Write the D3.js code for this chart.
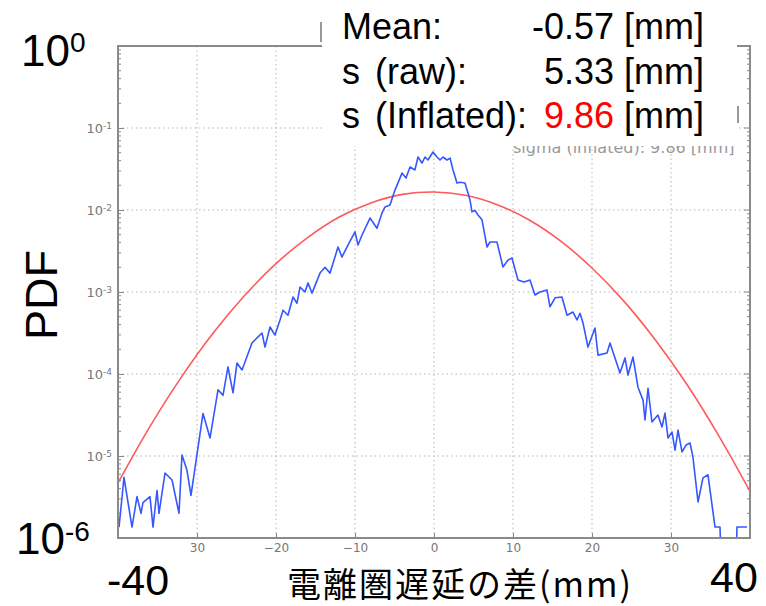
<!DOCTYPE html>
<html>
<head>
<meta charset="utf-8">
<script src="https://cdn.jsdelivr.net/npm/d3@7"></script>
<style>
  body { margin: 0; background: #fff; }
  svg { display: block; }
</style>
</head>
<body>
<script>
var blueX = [-39.87, -39.24, -38.23, -37.59, -37.09, -36.84, -35.95, -35.57, -35.06, -34.81,
  -34.05, -33.16, -32.28, -31.90, -31.27, -30.76, -29.24, -28.35, -27.34, -26.71,
  -26.08, -25.44, -24.94, -24.30, -23.04, -21.77, -21.39, -20.76, -20.13, -19.49,
  -19.11, -18.48, -17.85, -17.34, -16.96, -16.33, -15.95, -15.44, -14.43, -13.80,
  -13.16, -12.15, -11.65, -10.89, -10.00, -9.62, -9.11, -8.10, -7.22, -6.58,
  -6.20, -5.57, -4.94, -4.05, -3.54, -3.04, -2.41, -2.03, -1.52, -1.14,
  -0.76, -0.13, 0.38, 0.76, 1.14, 1.65, 2.03, 2.41, 2.91, 3.29,
  3.92, 4.30, 4.56, 4.81, 5.19, 5.57, 6.08, 6.71, 7.09, 7.97,
  8.73, 9.37, 9.87, 10.63, 11.39, 12.15, 12.78, 13.42, 14.30, 14.68,
  15.32, 16.20, 16.84, 17.59, 18.10, 18.48, 18.86, 19.49, 20.38, 20.76,
  21.90, 22.28, 22.91, 23.54, 24.18, 24.56, 25.19, 25.82, 26.46, 26.71,
  27.09, 27.59, 28.35, 28.86, 29.24, 29.62, 30.13, 30.51, 30.89, 31.39,
  31.90, 32.41, 32.78, 33.42, 34.05, 34.68, 35.57, 36.20, 36.58, 38.10,
  38.35, 39.62]
var blueY = [1.36e-6, 5.5e-6, 1.36e-6, 3.2e-6, 2.0e-6, 2.7e-6, 3.2e-6, 1.36e-6, 3.8e-6, 2.0e-6,
  6.2e-6, 5.1e-6, 2.0e-6, 1.03e-5, 6.7e-6, 3.3e-6, 3.3e-5, 1.66e-5, 6.4e-5, 5.5e-5,
  1.22e-4, 5.9e-5, 1.36e-4, 1.12e-4, 2.39e-4, 3.16e-4, 2.13e-4, 3.74e-4, 2.99e-4, 4.56e-4,
  6.0e-4, 5.2e-4, 8.7e-4, 7.3e-4, 1.15e-3, 1.0e-3, 1.29e-3, 9.7e-4, 1.7e-3, 2.0e-3,
  1.7e-3, 3.54e-3, 2.67e-3, 3.74e-3, 5.4e-3, 3.74e-3, 4.96e-3, 7.98e-3, 6.0e-3, 9.2e-3,
  1.09e-2, 1.15e-2, 1.75e-2, 2.82e-2, 2.45e-2, 3.34e-2, 3.08e-2, 4.43e-2, 3.74e-2, 4.43e-2,
  4.07e-2, 5.1e-2, 4.43e-2, 4.07e-2, 4.43e-2, 4.07e-2, 4.3e-2, 3.08e-2, 2.13e-2, 2.18e-2,
  2.13e-2, 1.61e-2, 1.32e-2, 9.5e-3, 9.9e-3, 8.7e-3, 7.6e-3, 3.54e-3, 4.07e-3, 4.07e-3,
  2.02e-3, 2.45e-3, 2.6e-3, 1.4e-3, 1.32e-3, 1.4e-3, 9.2e-4, 1.0e-3, 1.06e-3, 6.6e-4,
  8.5e-4, 8.7e-4, 5.2e-4, 5.7e-4, 4.56e-4, 5.5e-4, 4.2e-4, 2.13e-4, 3.64e-4, 1.7e-4,
  1.8e-4, 2.39e-4, 1.57e-4, 1.03e-4, 1.57e-4, 9.7e-5, 1.61e-4, 6.9e-5, 4.8e-5, 2.75e-5,
  6.7e-5, 2.6e-5, 3.16e-5, 2.26e-5, 3.34e-5, 1.66e-5, 1.96e-5, 1.18e-5, 2.07e-5, 1.12e-5,
  1.36e-5, 1.44e-5, 9.7e-6, 2.75e-6, 5.4e-6, 5.9e-6, 1.36e-6, 1.36e-6, 1e-7, 1e-7,
  1.36e-6, 1.36e-6]

// fitted curve (red), every 4 mm
var redX = [-40, -36, -32, -28, -24, -20, -16, -12, -8, -4, 0,
  4, 8, 12, 16, 20, 24, 28, 32, 36, 40]
var redY = [4.7e-6, 2.25e-5, 9.1e-5, 3.12e-4, 9.0e-4, 2.22e-3, 4.6e-3, 8.2e-3, 1.22e-2, 1.55e-2, 1.66e-2,
  1.51e-2, 1.16e-2, 7.6e-3, 4.2e-3, 1.96e-3, 7.8e-4, 2.62e-4, 7.5e-5, 1.8e-5, 3.7e-6]

var xTicks = [-30, -20, -10, 0, 10, 20, 30]
var xTickLabels = ["30", "\u221220", "\u221210", "0", "10", "20", "30"]
var yTicks = [1e-1, 1e-2, 1e-3, 1e-4, 1e-5]
var yTickExp = ["-1", "-2", "-3", "-4", "-5"]

var statLabels = ["Mean:", "(raw):", "(Inflated):"]
var statValues = ["-0.57", "5.33", "9.86"]

var W = 766, H = 606
var margin = {top: 46, right: 16, bottom: 68, left: 118}
var width = W - margin.left - margin.right
var height = H - margin.top - margin.bottom

var svg = d3.select("body").append("svg")
    .attr("width", W)
    .attr("height", H)

var g = svg.append("g")
    .attr("transform", "translate(" + margin.left + "," + margin.top + ")")

var x = d3.scaleLinear().domain([-40, 40]).range([0, width])
var y = d3.scaleLog().domain([1e-6, 1]).range([height, 0])

g.append("clipPath").attr("id", "clip")
  .append("rect").attr("width", width).attr("height", height)

// grid
g.selectAll(".vgrid").data(xTicks).enter().append("line")
    .attr("x1", d => x(d)).attr("x2", d => x(d))
    .attr("y1", 0).attr("y2", height)
    .attr("stroke", "#b4b4b4").attr("stroke-width", 1)
    .attr("stroke-dasharray", "1.5,3")
g.selectAll(".hgrid").data(yTicks).enter().append("line")
    .attr("x1", 0).attr("x2", width)
    .attr("y1", d => y(d)).attr("y2", d => y(d))
    .attr("stroke", "#b4b4b4").attr("stroke-width", 1)
    .attr("stroke-dasharray", "1.5,3")

// minor log ticks on both sides
var minor = []
for (var e = -6; e < 0; e++) {
  for (var m = 2; m < 10; m++) minor.push(m * Math.pow(10, e))
}
g.selectAll(".minL").data(minor).enter().append("line")
    .attr("x1", 0).attr("x2", 3)
    .attr("y1", d => y(d)).attr("y2", d => y(d))
    .attr("stroke", "#888")
g.selectAll(".minR").data(minor).enter().append("line")
    .attr("x1", width - 3).attr("x2", width)
    .attr("y1", d => y(d)).attr("y2", d => y(d))
    .attr("stroke", "#888")
g.selectAll(".majR").data(yTicks).enter().append("line")
    .attr("x1", width - 6).attr("x2", width)
    .attr("y1", d => y(d)).attr("y2", d => y(d))
    .attr("stroke", "#888")

// axes
var xAxis = g.append("g")
    .attr("transform", "translate(0," + height + ")")
    .call(d3.axisBottom(x).tickValues(xTicks).tickSize(-5).tickPadding(5)
      .tickFormat((d, i) => xTickLabels[i]))
xAxis.select(".domain").remove()
xAxis.selectAll("line").attr("stroke", "#888")
xAxis.selectAll("text")
    .attr("fill", "#777")
    .style("font-family", "DejaVu Sans")
    .style("font-size", "12px")

var yAxis = g.append("g")
    .call(d3.axisLeft(y).tickValues(yTicks).tickSize(-6).tickPadding(6).tickFormat(""))
yAxis.select(".domain").remove()
yAxis.selectAll("line").attr("stroke", "#888")
yAxis.selectAll(".tick text")
    .attr("fill", "#777")
    .style("font-family", "DejaVu Sans")
    .style("font-size", "13px")
    .each(function(d, i) {
      var t = d3.select(this)
      t.append("tspan").text("10")
      t.append("tspan").text(yTickExp[i]).attr("dy", "-0.45em").style("font-size", "9px")
    })

// lines
var lineFn = d3.line().x(d => x(d[0])).y(d => y(d[1]))
var redLine = d3.line().x(d => x(d[0])).y(d => y(d[1])).curve(d3.curveCatmullRom)

g.append("path")
    .datum(redX.map((v, i) => [v, redY[i]]))
    .attr("clip-path", "url(#clip)")
    .attr("d", redLine)
    .attr("fill", "none")
    .attr("stroke", "#ff5a5a")
    .attr("stroke-width", 1.6)

g.append("path")
    .datum(blueX.map((v, i) => [v, blueY[i]]))
    .attr("clip-path", "url(#clip)")
    .attr("d", lineFn)
    .attr("fill", "none")
    .attr("stroke", "#3557ff")
    .attr("stroke-width", 1.6)
    .attr("stroke-linejoin", "round")

// frame
g.append("rect")
    .attr("width", width).attr("height", height)
    .attr("fill", "none")
    .attr("stroke", "#8a8a8a")
    .attr("stroke-width", 2)

// remnant of the original legend, partly hidden under the box
svg.append("text")
    .attr("x", 513).attr("y", 153)
    .attr("fill", "#999")
    .style("font-family", "DejaVu Sans")
    .style("font-size", "16px")
    .text("sigma (inflated):  9.86 [mm]")
svg.append("line")
    .attr("x1", 321).attr("x2", 321).attr("y1", 22).attr("y2", 42)
    .attr("stroke", "#999").attr("stroke-width", 2)
svg.append("line")
    .attr("x1", 738).attr("x2", 738).attr("y1", 106).attr("y2", 123)
    .attr("stroke", "#999").attr("stroke-width", 2)

// white statistics box
svg.append("rect")
    .attr("x", 322).attr("y", 0)
    .attr("width", 415).attr("height", 146)
    .attr("fill", "#fff")

var bigFont = "Liberation Sans, Arial, sans-serif"
var rows = [39, 84, 128]
statLabels.forEach(function(lab, i) {
  var t = svg.append("text")
      .attr("y", rows[i])
      .style("font-family", bigFont)
      .style("font-size", "36px")
      .attr("fill", "#000")
  if (i === 0) {
    t.attr("x", 342).text(lab)
  } else {
    t.attr("x", 342).text("s")
    svg.append("text")
        .attr("x", 375).attr("y", rows[i])
        .style("font-family", bigFont)
        .style("font-size", "36px")
        .text(lab)
  }
  var v = svg.append("text")
      .attr("x", 704).attr("y", rows[i])
      .attr("text-anchor", "end")
      .style("font-family", bigFont)
      .style("font-size", "36px")
  v.append("tspan").text(statValues[i]).attr("fill", i === 2 ? "#ff0000" : "#000")
  v.append("tspan").text("\u00a0[mm]").attr("fill", "#000")
})

// large slide labels
var top0 = svg.append("text")
    .attr("x", 21).attr("y", 66)
    .style("font-family", bigFont).style("font-size", "44px")
top0.append("tspan").text("10")
top0.append("tspan").text("0").attr("dy", "-0.5em").style("font-size", "28px")

var bot6 = svg.append("text")
    .attr("x", 16).attr("y", 554)
    .style("font-family", bigFont).style("font-size", "44px")
bot6.append("tspan").text("10")
bot6.append("tspan").text("-6").attr("dy", "-0.45em").style("font-size", "28px")

svg.append("text")
    .attr("x", 107).attr("y", 595)
    .style("font-family", bigFont).style("font-size", "43px")
    .text("-40")
svg.append("text")
    .attr("x", 710).attr("y", 592)
    .style("font-family", bigFont).style("font-size", "43px")
    .text("40")

svg.append("text")
    .attr("transform", "translate(57,295) rotate(-90)")
    .attr("text-anchor", "middle")
    .style("font-family", bigFont).style("font-size", "45px")
    .text("PDF")

svg.append("text")
    .attr("x", 287).attr("y", 597)
    .style("font-family", "Noto Sans CJK JP, sans-serif")
    .style("font-size", "34px")
    .style("letter-spacing", "2px")
    .text("電離圏遅延の差(mm)")
</script>
</body>
</html>
